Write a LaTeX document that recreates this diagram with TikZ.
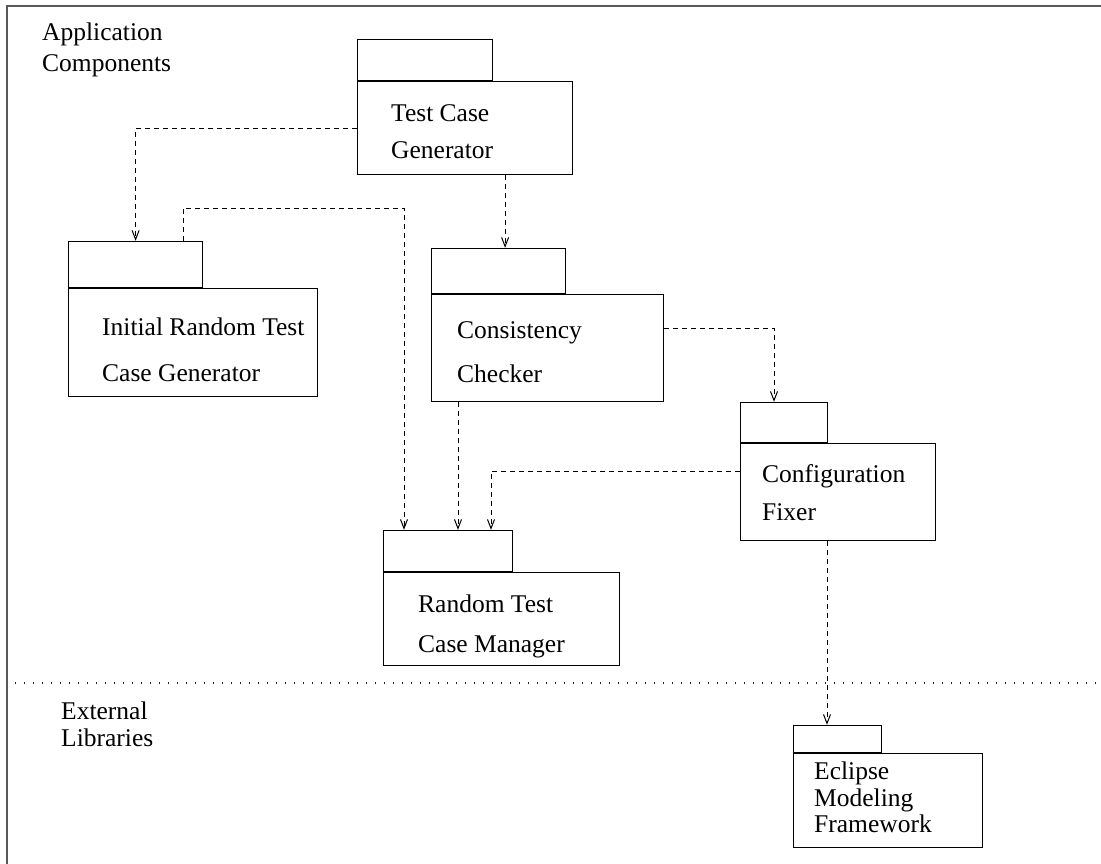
\documentclass[tikz,border=0pt]{standalone}
\usepackage{fontspec}
\setmainfont{Liberation Serif}
\usetikzlibrary{arrows.meta}
\begin{document}
\begin{tikzpicture}[x=1pt,y=-1pt,
  body/.style={draw=black, line width=1.2pt, rectangle, inner sep=0pt, anchor=north west},
  tabbox/.style={draw=black, line width=1.2pt, rectangle, inner sep=0pt, anchor=south west},
  lbl/.style={anchor=base west, inner sep=0pt, font=\fontsize{25.5}{30}\selectfont},
  dep/.style={draw=black, line width=1pt, dash pattern=on 5pt off 4pt,
              -{Straight Barb[length=9pt,width=7pt,line width=1pt]}},
  frameline/.style={draw=black!65, line width=1.6pt},
  sep/.style={draw=black!85, line width=1.1pt, dash pattern=on 1pt off 8pt}]
\useasboundingbox (0,0) rectangle (1101,864);

% frame edges
\draw[frameline] (7,864) -- (7,6) -- (1101,6);

% layer separator
\draw[sep] (15,683) -- (1097,683);

% layer labels
\node[lbl] (app1) at (42,41) {Application};
\node[lbl] (app2) at (42,72) {Components};
\node[lbl] (ext1) at (61,719) {External};
\node[lbl] (ext2) at (61,746) {Libraries};

% packages
\node[body, minimum width=215pt, minimum height=93pt] (tcg) at (357,81) {};
\node[tabbox, minimum width=135pt, minimum height=41pt] (tcgtab) at (tcg.north west) {};
\node[lbl] (tcg1) at (391,122) {Test Case};
\node[lbl] (tcg2) at (391,159) {Generator};

\node[body, minimum width=249pt, minimum height=108pt] (irg) at (68,288) {};
\node[tabbox, minimum width=134pt, minimum height=46pt] (irgtab) at (irg.north west) {};
\node[lbl] (irg1) at (102,335) {Initial Random Test};
\node[lbl] (irg2) at (102,381) {Case Generator};

\node[body, minimum width=232pt, minimum height=107pt] (cc) at (431,294) {};
\node[tabbox, minimum width=134pt, minimum height=45pt] (cctab) at (cc.north west) {};
\node[lbl] (cc1) at (457,338) {Consistency};
\node[lbl] (cc2) at (457,382) {Checker};

\node[body, minimum width=195pt, minimum height=97pt] (cf) at (740,443) {};
\node[tabbox, minimum width=87pt, minimum height=40pt] (cftab) at (cf.north west) {};
\node[lbl] (cf1) at (762,482) {Configuration};
\node[lbl] (cf2) at (762,520) {Fixer};

\node[body, minimum width=236pt, minimum height=93pt] (rtcm) at (383,572) {};
\node[tabbox, minimum width=129pt, minimum height=41pt] (rtcmtab) at (rtcm.north west) {};
\node[lbl] (rtcm1) at (418,612) {Random Test};
\node[lbl] (rtcm2) at (418,652) {Case Manager};

\node[body, minimum width=189pt, minimum height=94pt] (emf) at (793,753) {};
\node[tabbox, minimum width=88pt, minimum height=27pt] (emftab) at (emf.north west) {};
\node[lbl] (emf1) at (814,779) {Eclipse};
\node[lbl] (emf2) at (814,806) {Modeling};
\node[lbl] (emf3) at (814,832) {Framework};

% dependencies
\draw[dep] (tcg.west) -| (irgtab.north);
\draw[dep] ([xshift=-20pt]irgtab.north east) |- (404,208) -- ([xshift=21pt]rtcmtab.north west);
\draw[dep] ([xshift=40pt]tcg.south) coordinate (t3) -- (t3 |- cctab.north);
\draw[dep] ([yshift=-34pt]cc.north east) -| ([xshift=34pt]cftab.north west);
\draw[dep] ([xshift=27pt]cc.south west) coordinate (t5) -- (t5 |- rtcmtab.north);
\draw[dep] ([yshift=-28pt]cf.north west) -| ([xshift=108pt]rtcmtab.north west);
\draw[dep] ([xshift=87pt]cf.south west) coordinate (t7) -- (t7 |- emftab.north);
\end{tikzpicture}
\end{document}
